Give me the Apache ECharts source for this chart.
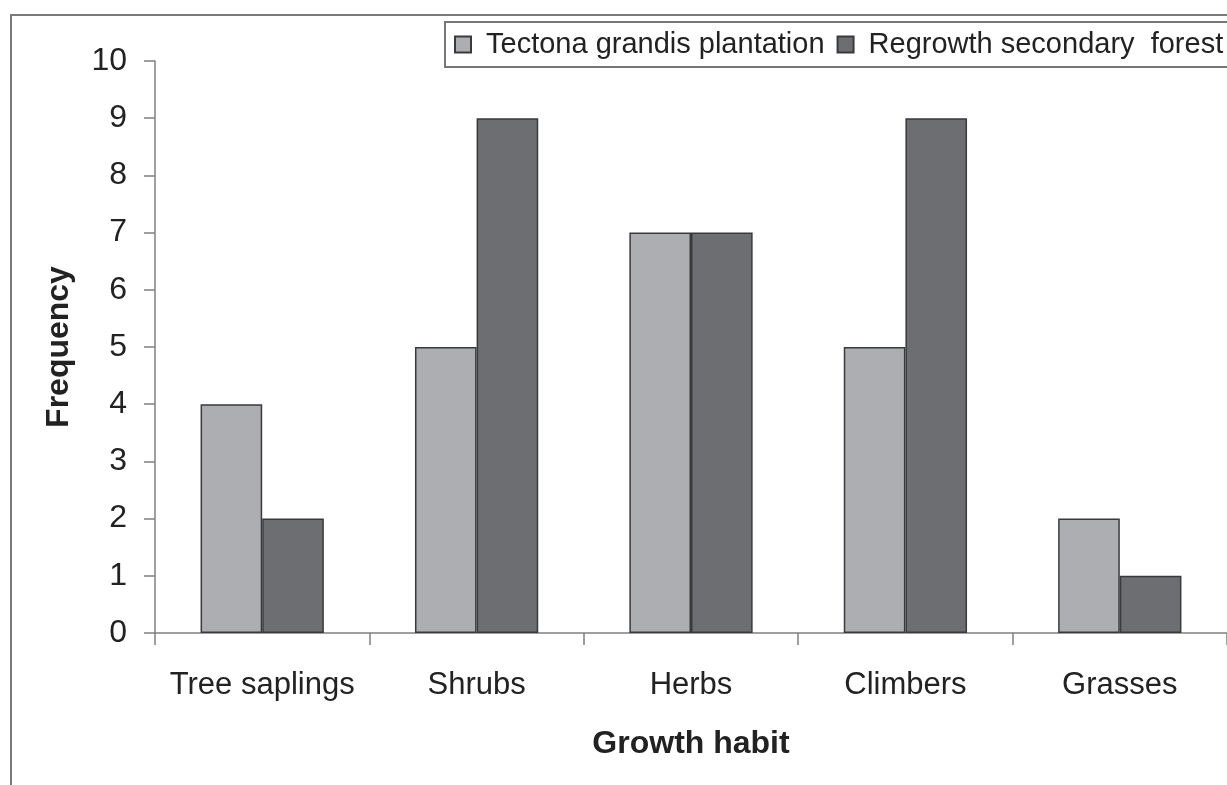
<!DOCTYPE html>
<html>
<head>
<meta charset="utf-8">
<script src="https://cdn.jsdelivr.net/npm/echarts@6/dist/echarts.min.js"></script>
<style>
  html, body { margin: 0; padding: 0; background: #fff; }
  #chart { width: 1227px; height: 785px; }
</style>
</head>
<body>
<div id="chart"></div>
<script>
  // data
  let habits = ['Tree saplings', 'Shrubs', 'Herbs', 'Climbers', 'Grasses'];
  let tectona = [4, 5, 7, 5, 2];
  let regrowth = [2, 9, 7, 9, 1];
  let seriesNames = ['Tectona grandis plantation', 'Regrowth secondary  forest'];
  let seriesColors = ['#adaeb2', '#6d6e72'];

  let font = 'Arial, "Liberation Sans", Helvetica, sans-serif';

  let myChart = echarts.init(document.getElementById('chart'));
  myChart.setOption({
    animation: false,
    color: seriesColors,
    graphic: [
      {
        type: 'rect',
        shape: { x: 11, y: 15, width: 1400, height: 1000 },
        style: { fill: 'none', stroke: '#7a7a7a', lineWidth: 2 },
        z: -1
      }
    ],
    legend: {
      orient: 'horizontal',
      left: 445, top: 22, width: 1000,
      padding: [8, 40, 8, 9],
      borderColor: '#777', borderWidth: 2,
      itemWidth: 16, itemHeight: 16, itemGap: 12,
      icon: 'rect',
      textStyle: { fontFamily: font, fontSize: 29, color: '#222', padding: [0, 0, 0, 10] },
      data: seriesNames
    },
    grid: { left: 155, top: 61, width: 1080, height: 572 },
    xAxis: {
      type: 'category',
      data: habits,
      name: 'Growth habit',
      nameLocation: 'middle',
      nameGap: 95,
      nameTextStyle: { fontFamily: font, fontSize: 32, fontWeight: 'bold', color: '#222' },
      axisLine: { lineStyle: { color: '#808080', width: 1.5 } },
      axisTick: { show: true, interval: 0, length: 12, lineStyle: { color: '#808080', width: 1.5 } },
      axisLabel: { interval: 0, fontFamily: font, fontSize: 31, color: '#222', margin: 37 }
    },
    yAxis: {
      type: 'value',
      min: 0, max: 10, interval: 1,
      name: 'Frequency',
      nameLocation: 'middle',
      nameGap: 80,
      nameTextStyle: { fontFamily: font, fontSize: 32, fontWeight: 'bold', color: '#222' },
      axisLine: { show: true, lineStyle: { color: '#808080', width: 1.5 } },
      axisTick: { show: true, length: 11, lineStyle: { color: '#808080', width: 1.5 } },
      axisLabel: { fontFamily: font, fontSize: 32, color: '#222', margin: 28 },
      splitLine: { show: false }
    },
    series: [
      {
        name: seriesNames[0], type: 'bar', data: tectona,
        barGap: 0, barCategoryGap: '42.5%',
        itemStyle: { color: seriesColors[0], borderColor: '#3a3a3a', borderWidth: 1.5 }
      },
      {
        name: seriesNames[1], type: 'bar', data: regrowth,
        barGap: 0, barCategoryGap: '42.5%',
        itemStyle: { color: seriesColors[1], borderColor: '#3a3a3a', borderWidth: 1.5 }
      }
    ]
  });
  window.addEventListener('resize', function () {
    myChart.resize();
  });
</script>
</body>
</html>
